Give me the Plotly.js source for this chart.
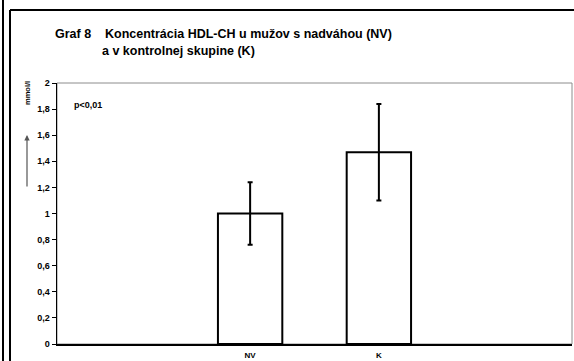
<!DOCTYPE html>
<html>
<head>
<meta charset="utf-8">
<script src="https://cdn.plot.ly/plotly-3.0.1.min.js"></script>
<style>html,body{margin:0;padding:0;background:#fff;}#chart{width:574px;height:361px;}</style>
</head>
<body>
<div id="chart"></div>
<script>
// Data
var categories = ['NV', 'K'];
var categoryPositions = [1, 2];
var values = [1.0, 1.47];
var errors = [0.24, 0.37];
var yTicks = [0, 0.2, 0.4, 0.6, 0.8, 1, 1.2, 1.4, 1.6, 1.8, 2];

var titleLine1 = 'Koncentrácia HDL-CH u mužov s nadváhou (NV)';
var titleLine2 = 'a v kontrolnej skupine (K)';

// Layout geometry (pixels)
var W = 574, H = 361;
var L = 57, R = 2, T = 83, B = 17;
var PW = W - L - R, PH = H - T - B;
function px(x) { return (x - L) / PW; }
function py(y) { return (H - B - y) / PH; }

var FONT = 'Liberation Sans, Arial, sans-serif';

var trace = {
  type: 'bar',
  x: categoryPositions,
  y: values,
  width: 0.5,
  marker: { color: '#ffffff', line: { color: '#000000', width: 2 } },
  error_y: { type: 'data', array: errors, visible: true, color: '#000000', thickness: 2, width: 2.5 },
  hoverinfo: 'none'
};

var layout = {
  width: W, height: H,
  margin: { l: L, r: R, t: T, b: B, pad: 0 },
  paper_bgcolor: '#ffffff',
  plot_bgcolor: '#ffffff',
  separators: ', ',
  showlegend: false,
  font: { family: FONT, color: '#000000' },
  xaxis: {
    range: [-0.5, 3.5],
    tickvals: categoryPositions,
    ticktext: categories,
    ticks: '',
    showgrid: false,
    zeroline: false,
    showline: true,
    linecolor: '#000000',
    linewidth: 2,
    ticklabelstandoff: 2,
    tickfont: { family: FONT, size: 8, color: '#000000', weight: 'bold' },
    fixedrange: true
  },
  yaxis: {
    range: [0, 2],
    tickvals: yTicks,
    ticks: 'outside',
    ticklen: 4,
    tickwidth: 1,
    tickcolor: '#000000',
    showgrid: false,
    zeroline: false,
    showline: true,
    linecolor: '#000000',
    linewidth: 1.5,
    tickfont: { family: FONT, size: 9, color: '#000000', weight: 'bold' },
    fixedrange: true
  },
  shapes: [
    // plot area gray border
    { type: 'rect', xref: 'paper', yref: 'paper', x0: 0, x1: 1, y0: 0, y1: 1,
      line: { color: '#8c8c8c', width: 1 }, layer: 'below' },
    // outer frame lines
    { type: 'line', xref: 'paper', yref: 'paper', x0: px(3), x1: px(3), y0: py(-5), y1: py(366),
      line: { color: '#000000', width: 2 } },
    { type: 'line', xref: 'paper', yref: 'paper', x0: px(10), x1: px(10), y0: py(10), y1: py(366),
      line: { color: '#000000', width: 2 } },
    { type: 'line', xref: 'paper', yref: 'paper', x0: px(10), x1: px(580), y0: py(10), y1: py(10),
      line: { color: '#000000', width: 2 } }
  ],
  annotations: [
    { text: '<b>Graf 8</b>', xref: 'paper', yref: 'paper', x: px(53), y: py(34),
      xanchor: 'left', yanchor: 'middle', showarrow: false,
      font: { family: FONT, size: 12.5, color: '#000000' } },
    { text: '<b>' + titleLine1 + '</b>', xref: 'paper', yref: 'paper', x: px(103), y: py(34),
      xanchor: 'left', yanchor: 'middle', showarrow: false,
      font: { family: FONT, size: 12.5, color: '#000000' } },
    { text: '<b>' + titleLine2 + '</b>', xref: 'paper', yref: 'paper', x: px(100), y: py(51),
      xanchor: 'left', yanchor: 'middle', showarrow: false,
      font: { family: FONT, size: 12.5, color: '#000000' } },
    { text: '<b>p<0,01</b>', xref: 'paper', yref: 'paper', x: px(72), y: py(105),
      xanchor: 'left', yanchor: 'middle', showarrow: false,
      font: { family: FONT, size: 9, color: '#000000' } },
    { text: '<b>mmol/l</b>', xref: 'paper', yref: 'paper', x: px(27), y: py(93),
      xanchor: 'center', yanchor: 'middle', showarrow: false, textangle: -90,
      font: { family: FONT, size: 7.5, color: '#000000' } },
    { text: '', xref: 'paper', yref: 'paper', x: px(27), y: py(135),
      showarrow: true, ax: 0, ay: 53, arrowcolor: '#555555', arrowwidth: 1.2,
      arrowhead: 2, arrowsize: 0.9, standoff: 0 }
  ]
};

Plotly.newPlot('chart', [trace], layout, { displayModeBar: false, staticPlot: true });
</script>
</body>
</html>
